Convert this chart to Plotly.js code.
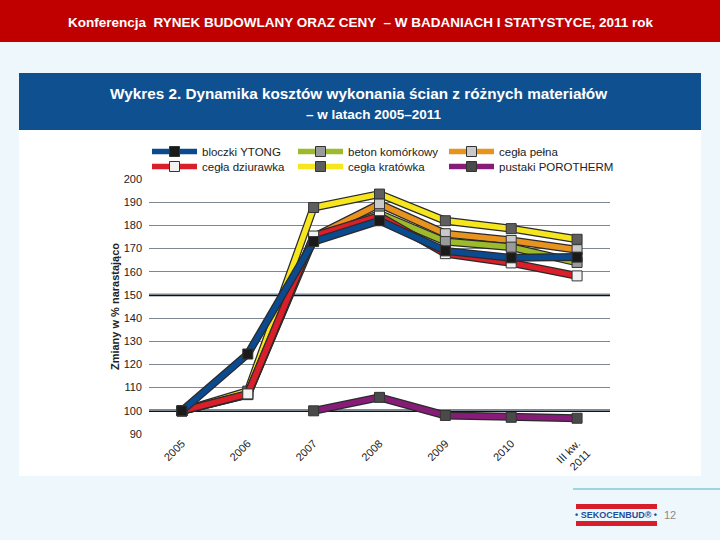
<!DOCTYPE html>
<html><head><meta charset="utf-8">
<script src="https://cdn.plot.ly/plotly-3.0.1.min.js"></script>
<style>html,body{margin:0;padding:0;background:#EEF7FC}</style>
</head><body><div id="chart" style="width:720px;height:540px"></div>
<script>
// ---- data ----
const categories = ['2005','2006','2007','2008','2009','2010','III kw.<br>2011'];
const bloczkiYtong     = [100, 124.5, 173,   182,   169,   166,   166.3];
const betonKomorkowy   = [100, 107,   174,   185,   173,   170.6, 164];
const ceglaPelna       = [100, 107,   175,   189.2, 176.4, 173.5, 169.5];
const ceglaDziurawka   = [100, 107.3, 175.4, 184,   167.8, 163.8, 158.2];
const ceglaKratowka    = [100, 108.5, 187.7, 193.5, 182,   178.6, 174];
const pustakiPorotherm = [null, null, 100,   105.8, 98,    97.2,  96.8];
const seriesNames = ['bloczki YTONG','beton komórkowy','cegła pełna','cegła dziurawka','cegła kratówka','pustaki POROTHERM'];
const yTickVals = [90,100,110,120,130,140,150,160,170,180,190,200];
const refLines = [100,150];
const headerText = 'Konferencja  RYNEK BUDOWLANY ORAZ CENY  – W BADANIACH I STATYSTYCE, 2011 rok';
const titleLine1 = 'Wykres 2. Dynamika kosztów wykonania ścian z różnych materiałów';
const titleLine2 = '– w latach 2005–2011';
const yTitle = 'Zmiany w % narastająco';
const logoText = '• SEKOCENBUD® •';
const pageNumber = '12';

// ---- styles ----
const seriesData = [bloczkiYtong, betonKomorkowy, ceglaPelna, ceglaDziurawka, ceglaKratowka, pustakiPorotherm];
const lineColors = ['#0B4A8E','#9DBA2A','#E8931E','#D81F2A','#F6E61E','#861C78'];
const markerColors = ['#1A1A1A','#9A9A9A','#C9C9C9','#F2F2F2','#5E5E5E','#4A4A4A'];
const legendIds = ['legend','legend2','legend3','legend4','legend5','legend6'];
const legendX = [147,293,444,147,293,444];
const legendY = [137,137,137,152,152,152];
const drawOrder = [4,2,1,3,0,5];

const L=149,R=610,T=179,B=434;
const px = x => (x-L)/(R-L);
const py = y => (B-y)/(B-T);

const traces = [];
drawOrder.forEach(i => {
  traces.push({
    x: categories, y: seriesData[i], type:'scatter', mode:'lines',
    line:{color:'#2a2a2a', width:8}, showlegend:false, hoverinfo:'skip', connectgaps:false
  });
  traces.push({
    x: categories, y: seriesData[i], type:'scatter', mode:'lines+markers', name: seriesNames[i],
    legend: legendIds[i], connectgaps:false,
    line:{color:lineColors[i], width:5.5},
    marker:{symbol:'square', size:10, color:markerColors[i], line:{color:'#333', width:1}}
  });
});

const shapes = [
  {type:'rect', xref:'paper', yref:'paper', x0:px(0), x1:px(720), y0:py(0), y1:py(42), fillcolor:'#C00000', line:{width:0}, layer:'below'},
  {type:'rect', xref:'paper', yref:'paper', x0:px(19), x1:px(701), y0:py(73), y1:py(130), fillcolor:'#0F5090', line:{width:0}, layer:'below'},
  {type:'rect', xref:'paper', yref:'paper', x0:px(19), x1:px(701), y0:py(130), y1:py(476), fillcolor:'#FFFFFF', line:{width:0}, layer:'below'},
  {type:'line', xref:'paper', yref:'paper', x0:px(573), x1:px(720), y0:py(489), y1:py(489), line:{color:'#7FCCD8', width:1.5}},
  {type:'rect', xref:'paper', yref:'paper', x0:px(576), x1:px(657), y0:py(504), y1:py(509), fillcolor:'#D81E2A', line:{width:0}},
  {type:'rect', xref:'paper', yref:'paper', x0:px(576), x1:px(657), y0:py(521), y1:py(526), fillcolor:'#D81E2A', line:{width:0}}
];
// vertical white category gridlines (above the gray horizontal grid), then the black reference lines
categories.forEach(c => shapes.push({type:'line', xref:'x', yref:'paper', x0:c, x1:c, y0:0, y1:1, line:{color:'#FFFFFF', width:3}, layer:'below'}));
refLines.forEach(v => shapes.push({type:'line', xref:'paper', yref:'y', x0:0, x1:1, y0:v, y1:v, line:{color:'#111', width:2.5}, layer:'below'}));

const annotations = [
  {text:headerText, xref:'paper', yref:'paper', x:px(361), y:py(22), showarrow:false, xanchor:'center', yanchor:'middle',
   font:{family:'Liberation Sans, Arial', size:13.5, color:'#FFFFFF', weight:'bold'}},
  {text:titleLine1, xref:'paper', yref:'paper', x:px(358), y:py(93), showarrow:false, xanchor:'center', yanchor:'middle',
   font:{family:'Liberation Sans, Arial', size:15.3, color:'#FFFFFF', weight:'bold'}},
  {text:titleLine2, xref:'paper', yref:'paper', x:px(374), y:py(114), showarrow:false, xanchor:'center', yanchor:'middle',
   font:{family:'Liberation Sans, Arial', size:13.5, color:'#FFFFFF', weight:'bold'}},
  {text:logoText, xref:'paper', yref:'paper', x:px(616), y:py(515), showarrow:false, xanchor:'center', yanchor:'middle',
   font:{family:'Liberation Sans, Arial', size:9, color:'#1F4E9A', weight:'bold'}},
  {text:pageNumber, xref:'paper', yref:'paper', x:px(670), y:py(515), showarrow:false, xanchor:'center', yanchor:'middle',
   font:{family:'Liberation Sans, Arial', size:11, color:'#8A8A8A'}}
];

const layout = {
  width:720, height:540,
  margin:{l:L, r:720-R, t:T, b:540-B},
  paper_bgcolor:'#EEF7FC', plot_bgcolor:'#D6E0EE',
  font:{family:'Liberation Sans, Arial', size:11, color:'#222'},
  showlegend:true,
  xaxis:{type:'category', range:[-0.5,6.5], showgrid:false, showline:false, zeroline:false,
         tickangle:-45, tickfont:{size:11, color:'#222'}, ticks:'', fixedrange:true},
  yaxis:{range:[90,200], tickvals:yTickVals, showgrid:true, gridcolor:'#7E8893', gridwidth:1, zeroline:false, showline:false,
         tickfont:{size:11, color:'#222'}, ticks:'', ticklabelstandoff:6,
         title:{text:yTitle, font:{size:11, color:'#222', weight:'bold'}, standoff:1}},
  shapes:shapes, annotations:annotations
};
legendIds.forEach((id, k) => {
  layout[id] = {orientation:'v', x:px(legendX[k]), xanchor:'left', y:py(legendY[k]), yanchor:'top',
    bgcolor:'rgba(0,0,0,0)', font:{size:11.5, color:'#222'}, itemwidth:45};
});
Plotly.newPlot('chart', traces, layout, {displayModeBar:false, staticPlot:true});
</script></body></html>
